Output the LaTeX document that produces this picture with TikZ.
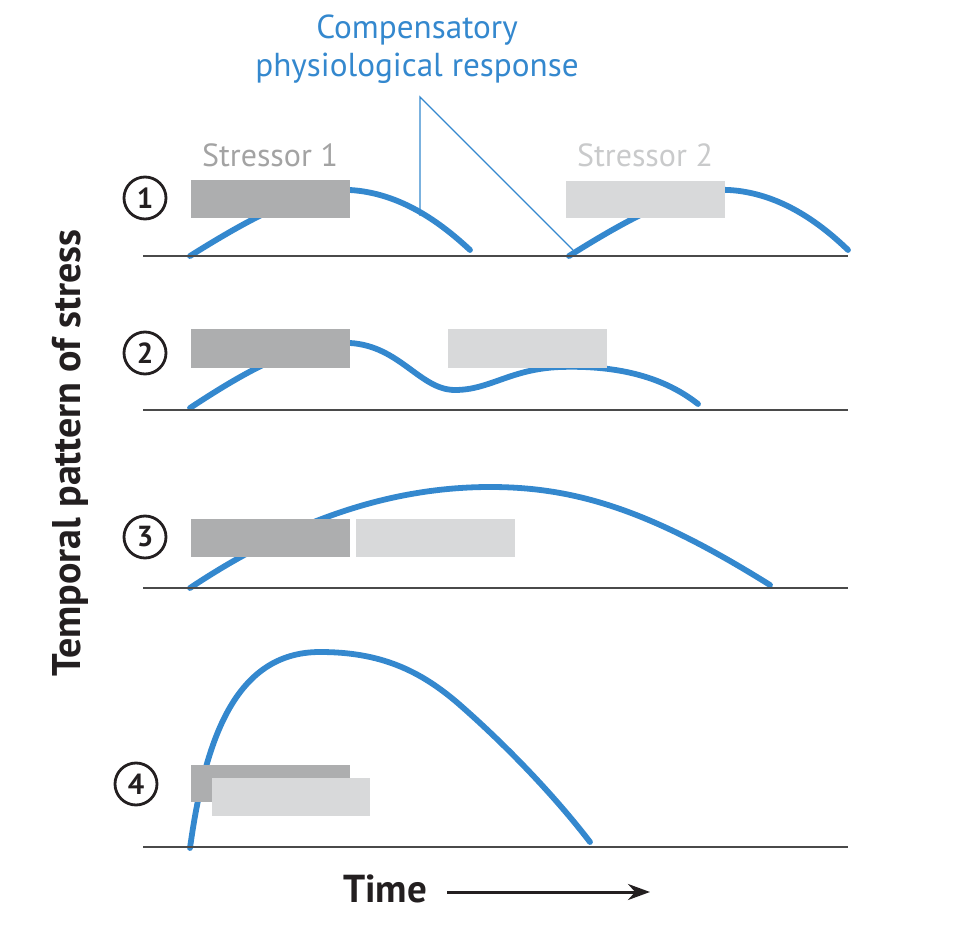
\documentclass[tikz,border=0pt]{standalone}
\usepackage{fontspec}
\setmainfont{PT Sans}
\usetikzlibrary{arrows.meta}
\definecolor{cblue}{HTML}{3488CE}
\definecolor{sdark}{HTML}{ADAEAF}
\definecolor{slight}{HTML}{D8D9DA}
\definecolor{ink}{HTML}{231F20}
\definecolor{axisc}{HTML}{4A4A4A}
\definecolor{lab1}{HTML}{A3A3A3}
\definecolor{lab2}{HTML}{C9CACB}
\tikzset{
  resp/.style={draw=cblue, line width=2.9pt, line cap=round},
  axisline/.style={draw=axisc, line width=1pt},
  box1/.style={fill=sdark},
  box2/.style={fill=slight},
  num/.style={circle, draw=ink, line width=1.4pt, minimum size=21pt, inner sep=0pt, text=ink, font=\fontsize{14.5}{14.5}\selectfont\bfseries},
  slabel/.style={font=\fontsize{16}{19}\selectfont},
  pointer/.style={draw=cblue, line width=0.7pt},
}
\begin{document}
\begin{tikzpicture}[x=0.5pt,y=-0.5pt]
\useasboundingbox (0,0) rectangle (976,936);
% title
\node[text=cblue, align=center, font=\fontsize{16.6}{19}\selectfont] (title) at (417,49) {Compensatory\\physiological response};
% axis labels
\node[rotate=90, text=ink, font=\fontsize{20}{22}\selectfont\bfseries] (ylab) at (70,453) {Temporal pattern of stress};
\node[text=ink, font=\fontsize{19.5}{22}\selectfont\bfseries] (tlab) at (385,889) {Time};
\coordinate (ta) at (447,892);
\coordinate (tb) at (650,892);
\draw[draw=ink, line width=1.5pt, -{Stealth[length=11pt,width=8pt]}] (ta) -- (tb);

% ---------- row 1 ----------
\draw[resp] (190,256) .. controls (260,212) and (310,188) .. (350,190) .. controls (400,193) and (440,222) .. (470,250);
\draw[resp] (569,256) .. controls (639,212) and (689,188) .. (729,190) .. controls (779,193) and (819,222) .. (848,250);
\fill[box1] (191,180) rectangle (350,218);
\fill[box2] (566,181) rectangle (725,218);
\draw[axisline] (143,256) -- (848,256);
\node[slabel, text=lab1] (s1) at (270,155) {Stressor 1};
\node[slabel, text=lab2] (s2) at (645,155) {Stressor 2};
\node[num] (c1) at (145,198) {1};
\coordinate (pa) at (420,97);
\coordinate (pb) at (420,216);
\coordinate (pc) at (573,250);
\draw[pointer] (pb) -- (pa) -- (pc);

% ---------- row 2 ----------
\draw[resp] (190,408) .. controls (255,365) and (305,340) .. (350,343) .. controls (400,346) and (420,390) .. (455,390) .. controls (490,390) and (510,369) .. (560,367) .. controls (620,365) and (665,378) .. (698,404);
\fill[box1] (191,329) rectangle (350,368);
\fill[box2] (448,329) rectangle (607,368);
\draw[axisline] (143,410) -- (848,410);
\node[num] (c2) at (145,353) {2};

% ---------- row 3 ----------
\draw[resp] (190,588) .. controls (280,528) and (380,487) .. (490,487) .. controls (575,487) and (650,510) .. (770,585);
\fill[box1] (191,519) rectangle (350,557);
\fill[box2] (356,519) rectangle (515,557);
\draw[axisline] (143,588) -- (848,588);
\node[num] (c3) at (145,537) {3};

% ---------- row 4 ----------
\draw[resp] (190,848) .. controls (205,740) and (235,652) .. (320,652) .. controls (380,652) and (420,670) .. (460,705) .. controls (500,740) and (550,790) .. (590,842);
\fill[box1] (191,765) rectangle (350,802);
\fill[box2] (212,778) rectangle (370,816);
\draw[axisline] (143,847) -- (848,847);
\node[num] (c4) at (136,784) {4};
\end{tikzpicture}
\end{document}
